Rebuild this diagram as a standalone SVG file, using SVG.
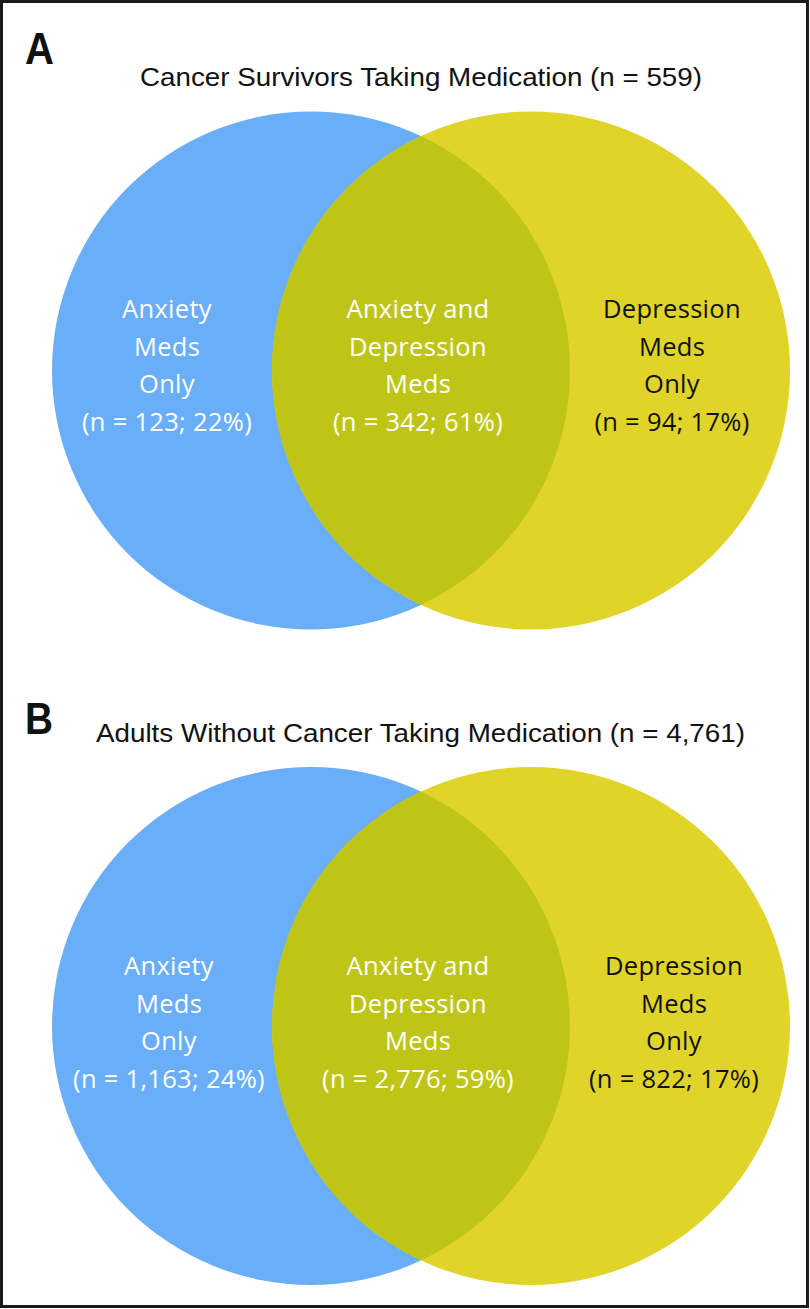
<svg xmlns="http://www.w3.org/2000/svg" width="810" height="1309" viewBox="0 0 810 1309">
<defs>
<style>
.title{font-family:"Liberation Sans",Arial,sans-serif;font-size:26.5px;fill:#111;}
.panel{font-family:"Liberation Sans",Arial,sans-serif;font-weight:bold;font-size:44px;fill:#111;}
.lbl{font-family:"Open Sans","Noto Sans",sans-serif;font-size:25.5px;letter-spacing:0.3px;text-anchor:middle;}
.w{fill:#ffffff;}
.k{fill:#111111;}
.blue{fill:#69aef7;}
.yellow{fill:#e0d42a;}
.overlap{fill:#bfc517;}
</style>
<clipPath id="clipA"><circle cx="311" cy="370.5" r="259"/></clipPath>
<clipPath id="clipB"><circle cx="311" cy="1026" r="259"/></clipPath>
</defs>
<rect x="0" y="0" width="810" height="1309" fill="#ffffff"/>
<rect x="1.5" y="1.5" width="806" height="1305" fill="none" stroke="#1a1a1a" stroke-width="3"/>

<g id="panelA">
<text class="panel" x="25" y="64" textLength="29" lengthAdjust="spacingAndGlyphs">A</text>
<text class="title" x="140" y="86" textLength="562" lengthAdjust="spacingAndGlyphs">Cancer Survivors Taking Medication (n = 559)</text>
<g id="A-anxiety-circle"><circle class="blue" cx="311" cy="370.5" r="259"/></g>
<g id="A-depression-circle"><circle class="yellow" cx="531" cy="370.5" r="259"/></g>
<g id="A-overlap"><circle class="overlap" cx="531" cy="370.5" r="259" clip-path="url(#clipA)"/></g>
<g id="A-anxiety-only" class="lbl w">
<text x="167" y="318">Anxiety</text>
<text x="167" y="355.5">Meds</text>
<text x="167" y="393">Only</text>
<text x="167" y="430.5">(n = 123; 22%)</text>
</g>
<g id="A-both" class="lbl w">
<text x="418" y="318">Anxiety and</text>
<text x="418" y="355.5">Depression</text>
<text x="418" y="393">Meds</text>
<text x="418" y="430.5">(n = 342; 61%)</text>
</g>
<g id="A-depression-only" class="lbl k">
<text x="672" y="318">Depression</text>
<text x="672" y="355.5">Meds</text>
<text x="672" y="393">Only</text>
<text x="672" y="430.5">(n = 94; 17%)</text>
</g>
</g>

<g id="panelB">
<text class="panel" x="25" y="734" textLength="28" lengthAdjust="spacingAndGlyphs">B</text>
<text class="title" x="96" y="742" textLength="649" lengthAdjust="spacingAndGlyphs">Adults Without Cancer Taking Medication (n = 4,761)</text>
<g id="B-anxiety-circle"><circle class="blue" cx="311" cy="1026" r="259"/></g>
<g id="B-depression-circle"><circle class="yellow" cx="531" cy="1026" r="259"/></g>
<g id="B-overlap"><circle class="overlap" cx="531" cy="1026" r="259" clip-path="url(#clipB)"/></g>
<g id="B-anxiety-only" class="lbl w">
<text x="169" y="975">Anxiety</text>
<text x="169" y="1012.5">Meds</text>
<text x="169" y="1050">Only</text>
<text x="169" y="1087.5">(n = 1,163; 24%)</text>
</g>
<g id="B-both" class="lbl w">
<text x="418" y="975">Anxiety and</text>
<text x="418" y="1012.5">Depression</text>
<text x="418" y="1050">Meds</text>
<text x="418" y="1087.5">(n = 2,776; 59%)</text>
</g>
<g id="B-depression-only" class="lbl k">
<text x="674" y="975">Depression</text>
<text x="674" y="1012.5">Meds</text>
<text x="674" y="1050">Only</text>
<text x="674" y="1087.5">(n = 822; 17%)</text>
</g>
</g>
<g id="connectors"/>
</svg>
